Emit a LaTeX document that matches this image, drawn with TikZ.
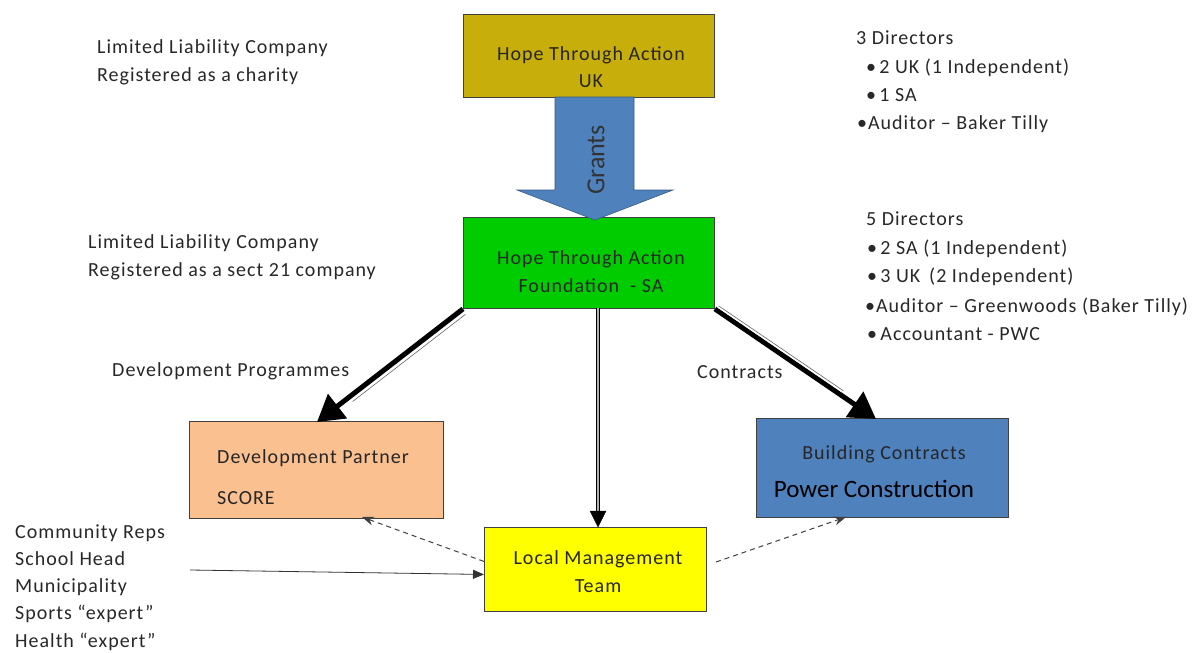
\documentclass[tikz,border=0pt]{standalone}
\usepackage{fontspec}
\setmainfont{Carlito}[LetterSpace=5]
\newfontfamily\plainfont{Carlito}
\usetikzlibrary{arrows.meta,calc}
\definecolor{ukgold}{RGB}{200,174,10}
\definecolor{sagreen}{RGB}{0,204,0}
\definecolor{dppeach}{RGB}{250,192,144}
\definecolor{lmtyellow}{RGB}{255,255,0}
\definecolor{bcblue}{RGB}{79,129,189}
\definecolor{txt}{RGB}{40,40,40}
\tikzset{
  box/.style={draw=black!75, line width=0.9pt, inner sep=0pt, anchor=north west},
  lbl/.style={anchor=base west, inner sep=0pt, text=txt, font=\fontsize{20}{24}\selectfont},
  clbl/.style={anchor=base, inner sep=0pt, text=black!85, font=\fontsize{20}{24}\selectfont},
  heavy/.style={line width=5pt, black},
  sheen/.style={line width=1.2pt, white},
  dash arrow/.style={dashed, line width=1pt, black!75, dash pattern=on 5pt off 4pt, -{Stealth[length=12pt,width=9pt]}},
}
\begin{document}
\begin{tikzpicture}[x=1pt,y=-1pt]
\path[use as bounding box, fill=white] (0,0) rectangle (1192,653);

% boxes
\node[box, fill=ukgold, minimum width=251pt, minimum height=83pt] (uk) at (463,14) {};
\node[box, fill=sagreen, minimum width=251pt, minimum height=91pt] (sa) at (463,217) {};
\node[box, fill=dppeach, minimum width=254pt, minimum height=97pt] (dp) at (189,421) {};
\node[box, fill=lmtyellow, minimum width=222pt, minimum height=84pt] (lmt) at (484,527) {};
\node[box, fill=bcblue, minimum width=252pt, minimum height=99pt] (bc) at (756,418) {};

% box texts
\node[clbl] (uk1) at (591,60) {Hope Through Action};
\node[clbl] (uk2) at (591,87) {UK};
\node[clbl] (sa1) at (591,264) {Hope Through Action};
\node[clbl] (sa2) at (591,292) {Foundation \ - SA};
\node[lbl, text=black!85] (dp1) at (217,463) {Development Partner};
\node[lbl, text=black!85] (dp2) at (217,504) {SCORE};
\node[clbl] (lmt1) at (598,564) {Local Management};
\node[clbl] (lmt2) at (598,592) {Team};
\node[clbl] (bc1) at (884,459) {Building Contracts};
\node[clbl, font=\plainfont\fontsize{25}{28}\selectfont, text=black] (bc2) at (874,497) {Power Construction};

% Grants block arrow
\coordinate (gtip) at (595,220);
\draw[fill=bcblue, draw=bcblue!70!black, line width=0.6pt]
  (555,97) -- (634,97) -- (634,190) -- (673,190) -- (gtip) -- (517,190) -- (555,190) -- cycle;
\node[rotate=90, text=black!80, font=\plainfont\fontsize{26}{28}\selectfont, inner sep=0pt] (grants) at (596,160) {Grants};

% heavy arrows
\coordinate (dptop) at (317,422);
\coordinate (bctop) at (876,419);
\draw[heavy, -{Triangle[length=26pt,width=30pt]}] (sa.south west) -- (dptop);
\draw[sheen, transform canvas={shift={(2.5pt,-3.1pt)}}] ($(sa.south west)+(-1,1)$) -- ($(sa.south west)!0.78!(dptop)$);
\draw[black!60, line width=0.6pt, transform canvas={shift={(3.5pt,-4.4pt)}}] ($(sa.south west)+(-1,1)$) -- ($(sa.south west)!0.78!(dptop)$);

\draw[heavy, -{Triangle[length=26pt,width=30pt]}] (sa.south east) -- (bctop);
\draw[sheen, transform canvas={shift={(1.9pt,2.8pt)}}] ($(sa.south east)+(1,1)$) -- ($(sa.south east)!0.78!(bctop)$);
\draw[black!60, line width=0.6pt, transform canvas={shift={(2.8pt,4.0pt)}}] ($(sa.south east)+(1,1)$) -- ($(sa.south east)!0.78!(bctop)$);

% middle double arrow
\coordinate (samid) at (598,308);
\coordinate (lmttop) at (598,527);
\draw[line width=1.1pt, black, double=black!30, double distance=2pt] (samid) -- ($(lmttop)+(0,-14)$);
\draw[fill=black] (lmttop) -- ++(-8,-16) -- ++(16,0) -- cycle;

% dashed arrows
\coordinate (dpbot) at (362,517);
\coordinate (bcbot) at (846,517);
\draw[dash arrow] ($(lmt.west)+(0,-8)$) -- (dpbot);
\draw[dash arrow] (716,562) -- (bcbot);

% input arrow
\coordinate (inp) at (190,570);
\draw[line width=0.8pt, black!80, -{Triangle[length=11pt,width=9pt]}] (inp) -- ($(lmt.west)+(0,5)$);

% side labels
\node[lbl] (t1) at (97,53) {Limited Liability Company};
\node[lbl] (t2) at (97,81) {Registered as a charity};
\node[lbl] (t3) at (88,248) {Limited Liability Company};
\node[lbl] (t4) at (88,276) {Registered as a sect 21 company};

\node[lbl] (d1) at (856,44) {3 Directors};
\node[lbl] (d2) at (866,73) {•\,2 UK (1 Independent)};
\node[lbl] (d3) at (866,101) {•\,1 SA};
\node[lbl] (d4) at (857,129) {•Auditor – Baker Tilly};

\node[lbl] (e1) at (866,225) {5 Directors};
\node[lbl] (e2) at (867,254) {•\,2 SA (1 Independent)};
\node[lbl] (e3) at (867,282) {•\,3 UK \,(2 Independent)};
\node[lbl] (e4) at (865,312) {•Auditor – Greenwoods (Baker Tilly)};
\node[lbl] (e5) at (867,340) {•\,Accountant - PWC};

\node[lbl] (devp) at (112,376) {Development Programmes};
\node[lbl] (contr) at (697,378) {Contracts};

\node[lbl] (c1) at (15,538) {Community Reps};
\node[lbl] (c2) at (15,565) {School Head};
\node[lbl] (c3) at (15,592) {Municipality};
\node[lbl] (c4) at (15,619) {Sports “expert”};
\node[lbl] (c5) at (15,647) {Health “expert”};
\end{tikzpicture}
\end{document}
